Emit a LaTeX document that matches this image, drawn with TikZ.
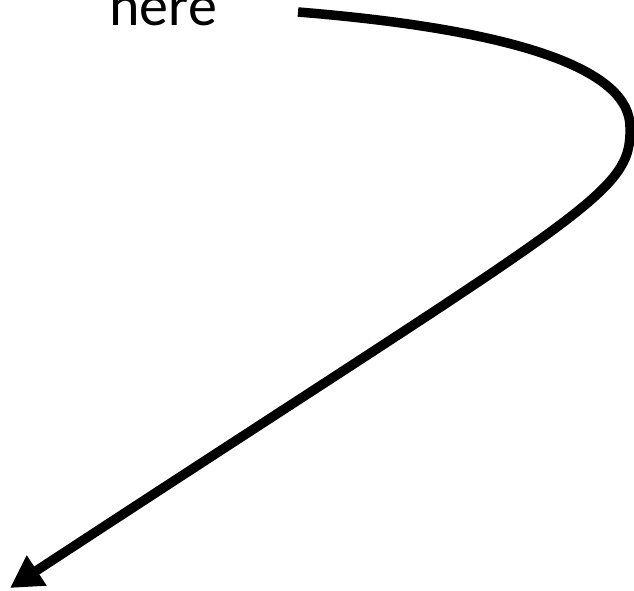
\documentclass[tikz,border=0pt]{standalone}
\usepackage{fontspec}
\setmainfont{Carlito}
\usetikzlibrary{arrows.meta}
\tikzset{
  label/.style={font=\fontsize{58}{70}\selectfont, inner sep=0pt, anchor=base west},
  bigarrow/.style={line width=9.5pt, -{Triangle[length=32pt,width=34pt]}}
}
\begin{document}
\begin{tikzpicture}[x=1pt,y=-1pt]
\useasboundingbox (0,0) rectangle (634,591);
\node[label] (here) at (109,26) {here};
\coordinate (start) at (298,12);
\coordinate (turn) at (630,127);
\coordinate (end) at (10,588);
\draw[bigarrow] (start) .. controls (520,30) and (630,70) .. (turn)
  .. controls (632,195) and (590,208) .. (end);
\end{tikzpicture}
\end{document}
